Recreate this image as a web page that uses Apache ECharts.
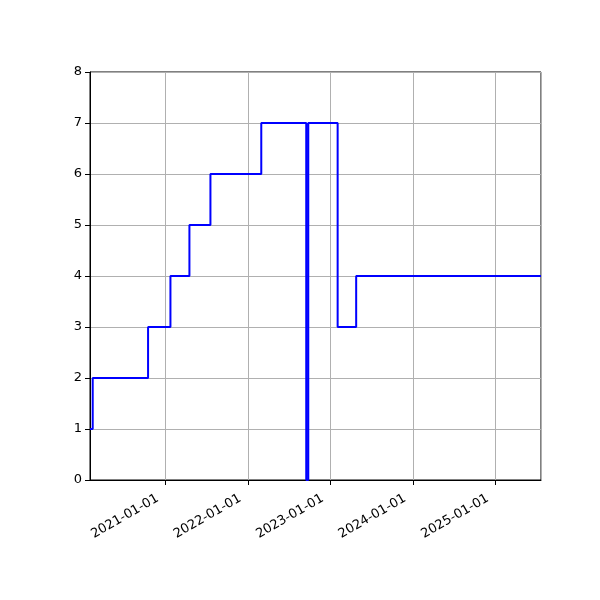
<!DOCTYPE html>
<html>
<head>
<meta charset="utf-8">
<script src="https://cdn.jsdelivr.net/npm/echarts@6/dist/echarts.min.js"></script>
<style>
  html, body { margin: 0; padding: 0; background: #fff; }
  #main { width: 600px; height: 600px; }
</style>
</head>
<body>
<div id="main"></div>
<script>
// step points (value holds until the next date)
var dates = ['2020-02-02', '2020-02-14', '2020-10-16', '2021-01-23', '2021-04-17',
  '2021-07-19', '2022-03-01', '2022-09-16', '2022-09-25', '2023-02-02',
  '2023-04-25', '2025-07-21'];
var values = [1, 2, 3, 4, 5, 6, 7, 0, 7, 3, 4, 4];
var yTicks = [0, 1, 2, 3, 4, 5, 6, 7, 8];

var chartDom = document.getElementById('main');
var myChart = echarts.init(chartDom);
var option;

var seriesData = dates.map(function (d, i) {
  return [d, values[i]];
});

option = {
  animation: false,
  textStyle: { fontFamily: 'DejaVu Sans' },
  grid: {
    left: 90,
    right: 59,
    top: 72,
    bottom: 120,
    show: true,
    borderColor: '#000',
    borderWidth: 1,
    containLabel: false
  },
  xAxis: {
    type: 'time',
    min: dates[0],
    max: dates[dates.length - 1],
    axisLine: { onZero: false, lineStyle: { color: '#000', width: 1 } },
    axisTick: { show: true, length: 5, lineStyle: { color: '#000' } },
    axisLabel: {
      rotate: 30,
      color: '#000',
      fontSize: 13,
      margin: 13,
      padding: [0, 9, 0, 0],
      hideOverlap: false,
      showMinLabel: false,
      showMaxLabel: false,
      formatter: '{yyyy}-{MM}-{dd}'
    },
    splitLine: { show: true, lineStyle: { color: '#b0b0b0', width: 1 } },
    minorTick: { show: false }
  },
  yAxis: {
    type: 'value',
    min: yTicks[0],
    max: yTicks[yTicks.length - 1],
    interval: 1,
    axisLine: { show: true, lineStyle: { color: '#000', width: 1 } },
    axisTick: { show: true, length: 5, lineStyle: { color: '#000' } },
    axisLabel: { color: '#000', fontSize: 13, margin: 8 },
    splitLine: { show: true, lineStyle: { color: '#b0b0b0', width: 1 } }
  },
  series: [
    {
      type: 'line',
      step: 'end',
      data: seriesData,
      showSymbol: false,
      lineStyle: { color: '#0000ff', width: 2 },
      itemStyle: { color: '#0000ff' }
    }
  ]
};

option && myChart.setOption(option);
</script>
</body>
</html>
